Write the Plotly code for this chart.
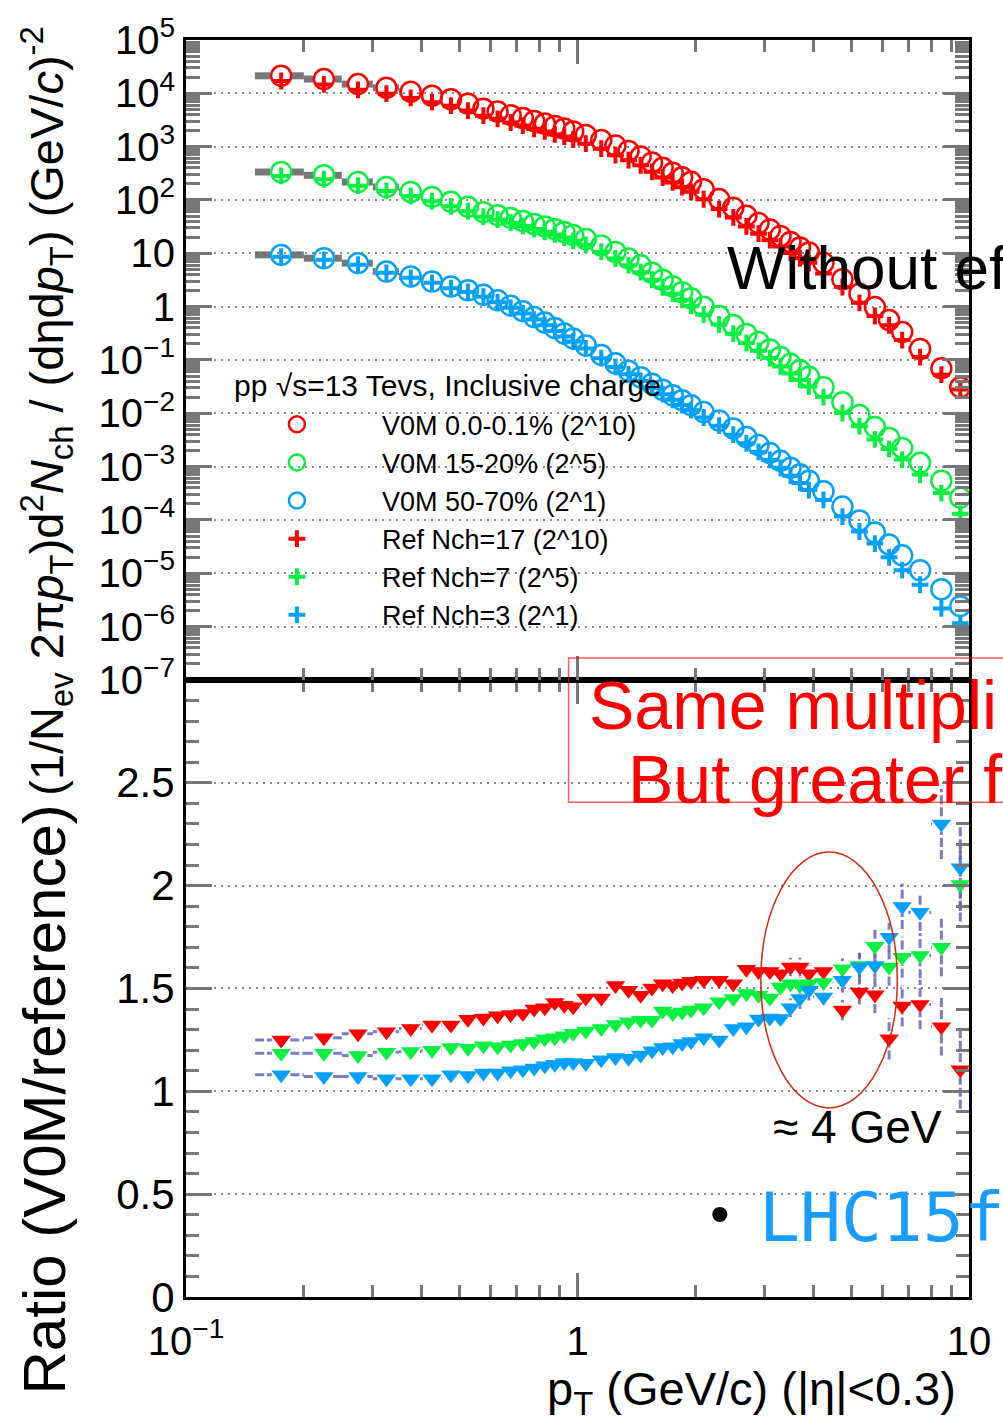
import plotly.graph_objects as go

# ---------------- data ----------------
pt = [0.175, 0.225, 0.275, 0.325, 0.375, 0.425, 0.475, 0.525, 0.575, 0.625, 0.675, 0.725, 0.775, 0.825, 0.875, 0.925, 0.975,
      1.05, 1.15, 1.25, 1.35, 1.45, 1.55, 1.65, 1.75, 1.85, 1.95,
      2.1, 2.3, 2.5, 2.7, 2.9, 3.1, 3.3, 3.5, 3.7, 3.9,
      4.25, 4.75, 5.25, 5.75, 6.25, 6.75, 7.5, 8.5, 9.5]
pt_lo = [0.15, 0.2, 0.25, 0.3, 0.35, 0.4, 0.45, 0.5, 0.55, 0.6, 0.65, 0.7, 0.75, 0.8, 0.85, 0.9, 0.95,
         1.0, 1.1, 1.2, 1.3, 1.4, 1.5, 1.6, 1.7, 1.8, 1.9,
         2.0, 2.2, 2.4, 2.6, 2.8, 3.0, 3.2, 3.4, 3.6, 3.8,
         4.0, 4.5, 5.0, 5.5, 6.0, 6.5, 7.0, 8.0, 9.0]
pt_hi = [0.2, 0.25, 0.3, 0.35, 0.4, 0.45, 0.5, 0.55, 0.6, 0.65, 0.7, 0.75, 0.8, 0.85, 0.9, 0.95, 1.0,
         1.1, 1.2, 1.3, 1.4, 1.5, 1.6, 1.7, 1.8, 1.9, 2.0,
         2.2, 2.4, 2.6, 2.8, 3.0, 3.2, 3.4, 3.6, 3.8, 4.0,
         4.5, 5.0, 5.5, 6.0, 6.5, 7.0, 8.0, 9.0, 10.0]

# V0M spectra (scaled)
v0m_0_01 = [21300, 18500, 14900, 12700, 10700, 9020, 7760, 6400, 5160, 4540, 3900, 3430, 3020, 2710, 2430, 2190, 1920,
            1650, 1330, 1050, 832, 656, 507, 401, 323, 266, 219,
            159, 104, 71.8, 50.9, 36.9, 27.9, 21.1, 16.3, 12.9, 10.4,
            6.62, 3.26, 1.75, 0.98, 0.56, 0.334, 0.161, 0.0697, 0.0308]
v0m_15_20 = [334.5, 290.2, 217.7, 175.6, 141.6, 114.2, 92.2, 74.3, 59.2, 52.0, 45.8, 40.2, 35.4, 31.8, 28.5, 25.1, 22.0,
             18.6, 14.0, 10.6, 8.03, 5.95, 4.31, 3.19, 2.41, 1.865, 1.441,
             1.0, 0.665, 0.452, 0.307, 0.2177, 0.1577, 0.1142, 0.0846, 0.064, 0.0484,
             0.0308, 0.01618, 0.00926, 0.00553, 0.003446, 0.002243, 0.001177, 0.000543, 0.000262]
v0m_50_70 = [9.34, 8.10, 6.54, 4.56, 3.68, 2.965, 2.391, 2.032, 1.674, 1.322, 1.044, 0.824, 0.637, 0.503, 0.397, 0.3135, 0.2529,
             0.1873, 0.1245, 0.0864, 0.0626, 0.0474, 0.0358, 0.02769, 0.02186, 0.01763, 0.01422,
             0.01053, 0.00731, 0.00518, 0.0036, 0.00255, 0.00181, 0.001283, 0.00095, 0.000718, 0.000543,
             0.000346, 0.000178, 9.75e-5, 5.82e-5, 3.48e-5, 2.17e-5, 1.138e-5, 5.03e-6, 2.42e-6]

# Reference spectra (scaled)
ref_17 = [17040, 14680, 11640, 9845, 8200, 6823, 5870, 4741, 3805, 3321, 2838, 2489, 2157, 1927, 1697, 1543, 1361,
          1135, 915, 693, 558, 447, 337.5, 263.3, 213.2, 174.2, 142.7,
          103.2, 67.5, 47.1, 31.95, 23.31, 17.62, 13.42, 10.16, 8.04, 6.62,
          4.18, 2.337, 1.18, 0.667, 0.446, 0.236, 0.1132, 0.053, 0.0279]
ref_7 = [282.3, 244.9, 185.4, 147.6, 118.7, 95.2, 76.0, 61.5, 48.5, 42.7, 37.4, 32.6, 28.5, 25.3, 22.6, 19.76, 17.16,
         14.39, 10.72, 8.0, 6.0, 4.42, 3.2, 2.295, 1.749, 1.346, 1.033,
         0.711, 0.463, 0.3115, 0.2081, 0.1484, 0.1085, 0.0758, 0.0555, 0.0422, 0.0318,
         0.02014, 0.01014, 0.00574, 0.003243, 0.002148, 0.001358, 0.000709, 0.000319, 0.0001306]
ref_3 = [8.64, 7.56, 6.10, 4.30, 3.47, 2.795, 2.212, 1.887, 1.537, 1.214, 0.949, 0.746, 0.572, 0.4475, 0.3507, 0.275, 0.2218,
         0.1647, 0.108, 0.0742, 0.0539, 0.0403, 0.0299, 0.02283, 0.01796, 0.0143, 0.01145,
         0.00835, 0.00585, 0.003966, 0.00274, 0.001888, 0.001334, 0.000948, 0.000676, 0.000495, 0.000364,
         0.000237, 0.0001156, 6.08e-5, 3.61e-5, 1.99e-5, 1.143e-5, 6.09e-6, 2.19e-6, 1.16e-6]

# Ratios V0M / reference
ratio_red = [1.25, 1.26, 1.28, 1.29, 1.305, 1.322, 1.322, 1.35, 1.356, 1.367, 1.374, 1.378, 1.40, 1.406, 1.432, 1.419, 1.411,
             1.454, 1.454, 1.515, 1.491, 1.467, 1.502, 1.523, 1.515, 1.527, 1.535,
             1.54, 1.54, 1.523, 1.593, 1.583, 1.583, 1.572, 1.604, 1.604, 1.572,
             1.583, 1.395, 1.483, 1.47, 1.255, 1.415, 1.422, 1.314, 1.105]
ratio_green = [1.185, 1.185, 1.174, 1.19, 1.193, 1.20, 1.213, 1.209, 1.221, 1.217, 1.225, 1.233, 1.242, 1.255, 1.261, 1.27, 1.282,
               1.293, 1.306, 1.325, 1.338, 1.346, 1.346, 1.39, 1.378, 1.386, 1.395,
               1.406, 1.435, 1.451, 1.475, 1.467, 1.454, 1.507, 1.523, 1.515, 1.523,
               1.529, 1.596, 1.612, 1.705, 1.604, 1.652, 1.66, 1.70, 2.006]
ratio_blue = [1.081, 1.072, 1.072, 1.061, 1.061, 1.061, 1.081, 1.077, 1.089, 1.089, 1.10, 1.105, 1.113, 1.124, 1.132, 1.14, 1.14,
              1.137, 1.153, 1.164, 1.161, 1.177, 1.197, 1.213, 1.217, 1.233, 1.242,
              1.261, 1.25, 1.306, 1.314, 1.351, 1.357, 1.354, 1.406, 1.451, 1.491,
              1.459, 1.54, 1.604, 1.612, 1.749, 1.899, 1.87, 2.30, 2.087]
err_red = [0.01, 0.01, 0.01, 0.01, 0.01, 0.01, 0.01, 0.01, 0.01, 0.01, 0.01, 0.01, 0.01, 0.01, 0.01, 0.01, 0.01,
           0.01, 0.01, 0.01, 0.01, 0.01, 0.01, 0.01, 0.01, 0.015, 0.015,
           0.02, 0.02, 0.02, 0.025, 0.025, 0.03, 0.03, 0.045, 0.045, 0.04,
           0.03, 0.05, 0.06, 0.09, 0.10, 0.10, 0.12, 0.14, 0.19]
err_green = [0.01, 0.01, 0.01, 0.01, 0.01, 0.01, 0.01, 0.01, 0.01, 0.01, 0.01, 0.01, 0.01, 0.01, 0.01, 0.01, 0.01,
             0.01, 0.01, 0.01, 0.01, 0.01, 0.01, 0.01, 0.01, 0.015, 0.015,
             0.02, 0.02, 0.02, 0.025, 0.025, 0.03, 0.03, 0.035, 0.04, 0.04,
             0.03, 0.05, 0.06, 0.08, 0.09, 0.10, 0.11, 0.14, 0.18]
err_blue = [0.01, 0.01, 0.01, 0.01, 0.01, 0.01, 0.01, 0.01, 0.01, 0.01, 0.01, 0.01, 0.01, 0.01, 0.01, 0.01, 0.01,
            0.01, 0.01, 0.01, 0.01, 0.01, 0.01, 0.01, 0.015, 0.015, 0.015,
            0.02, 0.02, 0.025, 0.025, 0.03, 0.03, 0.035, 0.045, 0.05, 0.05,
            0.04, 0.06, 0.07, 0.06, 0.07, 0.11, 0.09, 0.17, 0.21]

v0m_names = ["V0M 0.0-0.1% (2^10)", "V0M 15-20% (2^5)", "V0M 50-70% (2^1)"]
ref_names = ["Ref Nch=17 (2^10)", "Ref Nch=7 (2^5)", "Ref Nch=3 (2^1)"]

y_top_ticks = [1e5, 1e4, 1e3, 1e2, 10, 1, 1e-1, 1e-2, 1e-3, 1e-4, 1e-5, 1e-6, 1e-7]
y_top_text = ["10<sup>5</sup>", "10<sup>4</sup>", "10<sup>3</sup>", "10<sup>2</sup>", "10", "1",
              "10<sup>\u22121</sup>", "10<sup>\u22122</sup>", "10<sup>\u22123</sup>", "10<sup>\u22124</sup>",
              "10<sup>\u22125</sup>", "10<sup>\u22126</sup>", "10<sup>\u22127</sup>"]
y_bot_ticks = [0, 0.5, 1, 1.5, 2, 2.5]
y_bot_text = ["0", "0.5", "1", "1.5", "2", "2.5"]
x_ticks = [0.1, 1, 10]
x_text = ["10<sup>\u22121</sup>", "1", "10"]

# ---------------- style ----------------
RED, GREEN, BLUE = "#ff0000", "#0af040", "#04a0fa"
colors = [RED, GREEN, BLUE]
GRAYBAR = "rgba(95,95,95,0.85)"
ERRCOL = "rgba(100,100,190,0.85)"
TICKCOL = "#777777"
FONT = "Liberation Sans"

W, H = 1003, 1427
L, R, T, B = 186, 31, 34, 130
PW, PH = W - L - R, H - T - B
split_px = 677
dom_split = (T + PH - split_px) / PH


def px_x(px):
    return (px - L) / PW


def px_y(py):
    return (T + PH - py) / PH


def hsegments(xc, lo, hi, yv, gap):
    xs, ys = [], []
    for c, l, h, v in zip(xc, lo, hi, yv):
        if c / gap > l:
            xs += [l, c / gap, None]
            ys += [v, v, None]
        if c * gap < h:
            xs += [c * gap, h, None]
            ys += [v, v, None]
    return xs, ys


def vsegments(xc, yv, err, gap):
    xs, ys = [], []
    for c, v, e in zip(xc, yv, err):
        if e > gap:
            xs += [c, c, None, c, c, None]
            ys += [v - e, v - gap, None, v + gap, v + e, None]
    return xs, ys


fig = go.Figure()

v0m_all = [v0m_0_01, v0m_15_20, v0m_50_70]
ref_all = [ref_17, ref_7, ref_3]
ratio_all = [ratio_red, ratio_green, ratio_blue]
err_all = [err_red, err_green, err_blue]

# gray bin-width bars of spectra
for vals in v0m_all:
    xs, ys = hsegments(pt, pt_lo, pt_hi, vals, 1.066)
    fig.add_trace(go.Scatter(x=xs, y=ys, mode="lines", line=dict(color=GRAYBAR, width=7),
                             xaxis="x2", yaxis="y", showlegend=False, hoverinfo="skip"))

# V0M circles
for vals, c, n in zip(v0m_all, colors, v0m_names):
    fig.add_trace(go.Scatter(x=pt, y=vals, mode="markers", name=n,
                             marker=dict(symbol="circle-open", size=20, color=c, line=dict(width=2.5, color=c)),
                             xaxis="x2", yaxis="y", cliponaxis=False))
# Reference crosses
for vals, c, n in zip(ref_all, colors, ref_names):
    fig.add_trace(go.Scatter(x=pt, y=vals, mode="markers", name=n,
                             marker=dict(symbol="cross-thin-open", size=12, color=c, line=dict(width=4, color=c)),
                             xaxis="x2", yaxis="y", cliponaxis=False))

# ratio error bars
for rat, err in zip(ratio_all, err_all):
    xs, ys = hsegments(pt, pt_lo, pt_hi, rat, 1.056)
    fig.add_trace(go.Scatter(x=xs, y=ys, mode="lines", line=dict(color=ERRCOL, width=3, dash="9px,3px"),
                             xaxis="x", yaxis="y2", showlegend=False, hoverinfo="skip"))
    xs, ys = vsegments(pt, rat, err, 0.037)
    fig.add_trace(go.Scatter(x=xs, y=ys, mode="lines", line=dict(color=ERRCOL, width=3, dash="9px,3px"),
                             xaxis="x", yaxis="y2", showlegend=False, hoverinfo="skip"))
# ratio triangles
for rat, c in zip(ratio_all, colors):
    fig.add_trace(go.Scatter(x=pt, y=rat, mode="markers",
                             marker=dict(symbol="triangle-down", size=17, color=c, line=dict(width=0)),
                             xaxis="x", yaxis="y2", showlegend=False, cliponaxis=False))

x_minor = [0.2, 0.3, 0.4, 0.5, 0.6, 0.7, 0.8, 0.9, 2, 3, 4, 5, 6, 7, 8, 9]
y_minor = [m * 10.0 ** k for k in range(-7, 5) for m in range(2, 10)]

axis_common = dict(showline=True, linewidth=3, linecolor="black", mirror="allticks",
                   ticks="inside", tickwidth=3, tickcolor=TICKCOL, zeroline=False)

fig.update_layout(
    width=W, height=H,
    margin=dict(l=L, r=R, t=T, b=B, pad=0),
    paper_bgcolor="white", plot_bgcolor="white",
    font=dict(family=FONT, color="black"),
    xaxis=dict(type="log", range=[-1, 1], domain=[0, 1], anchor="y2",
               tickvals=x_ticks, ticktext=x_text, ticklen=24, tickfont=dict(size=40),
               ticklabelstandoff=7, showgrid=False,
               minor=dict(ticks="inside", ticklen=12, tickwidth=3, tickcolor=TICKCOL, tickvals=x_minor, showgrid=False),
               **axis_common),
    xaxis2=dict(type="log", range=[-1, 1], domain=[0, 1], anchor="y", matches="x",
                tickvals=x_ticks, showticklabels=False, ticklen=24, showgrid=False,
                minor=dict(ticks="inside", ticklen=12, tickwidth=3, tickcolor=TICKCOL, tickvals=x_minor, showgrid=False),
                **axis_common),
    yaxis=dict(type="log", range=[-7, 5], domain=[dom_split, 1], anchor="x2",
               tickvals=y_top_ticks, ticktext=y_top_text, ticklen=26, tickfont=dict(size=40),
               showgrid=True, gridcolor="#8a8a8a", gridwidth=2, griddash="2px,5px",
               minor=dict(ticks="inside", ticklen=14, tickwidth=3, tickcolor=TICKCOL, tickvals=y_minor, showgrid=False),
               **axis_common),
    yaxis2=dict(range=[0, 3], domain=[0, dom_split], anchor="x",
                tickvals=y_bot_ticks, ticktext=y_bot_text, ticklen=26, tickfont=dict(size=42),
                showgrid=True, gridcolor="#8a8a8a", gridwidth=2, griddash="2px,5px",
                minor=dict(ticks="inside", ticklen=13, tickwidth=3, tickcolor=TICKCOL, dtick=0.1, tick0=0, showgrid=False),
                **axis_common),
    showlegend=True,
    legend=dict(x=px_x(212), y=px_y(396), xanchor="left", yanchor="top",
                bgcolor="rgba(0,0,0,0)", borderwidth=0, font=dict(size=27, family=FONT),
                itemwidth=160, tracegroupgap=0, traceorder="normal"),
)

annotations = [
    # axis titles
    dict(text="(1/N<sub>ev</sub> 2\u03c0<i>p</i><sub>T</sub>)d<sup>2</sup><i>N</i><sub>ch</sub> / (d\u03b7d<i>p</i><sub>T</sub>) (GeV/<i>c</i>)<sup>-2</sup>",
         x=px_x(46), y=px_y(407), textangle=-90, font=dict(size=47)),
    dict(text="Ratio (V0M/reference)", x=px_x(44), y=px_y(1099), textangle=-90, font=dict(size=60)),
    dict(text="p<sub>T</sub> (GeV/c) (|\u03b7|&lt;0.3)", x=px_x(961), y=px_y(1392), xanchor="right",
         font=dict(size=47)),
    # legend header
    dict(text="pp \u221as=13 Tevs, Inclusive charge", x=px_x(232), y=px_y(381), xanchor="left",
         font=dict(size=30)),
    # overlays
    dict(text="Without ef", x=px_x(727), y=px_y(263), xanchor="left", font=dict(size=62, color="black")),
    dict(text="Same multipli", x=px_x(589), y=px_y(702), xanchor="left", font=dict(size=68, color="#ff0000")),
    dict(text="But greater f", x=px_x(628), y=px_y(777), xanchor="left", font=dict(size=68, color="#ff0000")),
    dict(text="\u2248 4 GeV", x=px_x(773), y=px_y(1126), xanchor="left", font=dict(size=46, color="black")),
    dict(text="\u2022", x=px_x(722), y=px_y(1213), font=dict(size=56, color="black")),
    dict(text="LHC15f", x=px_x(759), y=px_y(1217), xanchor="left",
         font=dict(size=68, color="#1a9bff", family="DejaVu Sans Mono")),
]
for a in annotations:
    a.setdefault("xref", "paper")
    a.setdefault("yref", "paper")
    a.setdefault("showarrow", False)
    a.setdefault("xanchor", "center")
    a.setdefault("yanchor", "middle")
fig.update_layout(annotations=annotations)

fig.update_layout(shapes=[
    dict(type="rect", xref="paper", yref="paper", x0=px_x(570), x1=px_x(1012), y0=px_y(800), y1=px_y(655),
         line=dict(color="rgba(255,0,0,0.65)", width=1.5), fillcolor="rgba(0,0,0,0)", layer="above"),
    dict(type="circle", xref="paper", yref="paper", x0=px_x(763), x1=px_x(900), y0=px_y(1107), y1=px_y(850),
         line=dict(color="#d42a10", width=1.5), fillcolor="rgba(0,0,0,0)", layer="above"),
])

fig.write_html("out.html")
